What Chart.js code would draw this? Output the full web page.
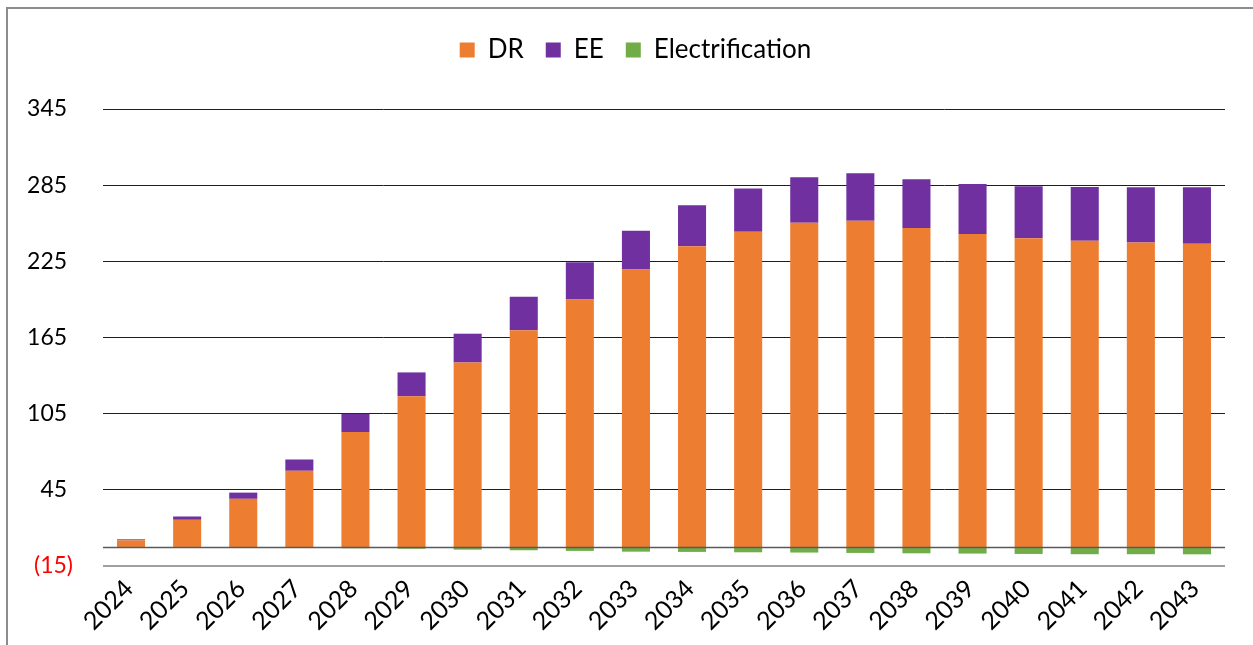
<!DOCTYPE html>
<html>
<head>
<meta charset="utf-8">
<script src="https://cdn.jsdelivr.net/npm/chart.js@4"></script>
<style>
  body { margin: 0; background: #fff; overflow: hidden; }
  #wrap { position: relative; width: 1253px; height: 645px; }
  #frame { position: absolute; left: 6px; top: 7px; width: 1400px; height: 800px;
           border-left: 2px solid #8c8c8c; border-top: 2px solid #8c8c8c; }
</style>
</head>
<body>
<div id="wrap">
  <div id="frame"></div>
  <canvas id="chart"></canvas>
</div>
<script>
const years = ['2024', '2025', '2026', '2027', '2028', '2029', '2030', '2031', '2032', '2033',
               '2034', '2035', '2036', '2037', '2038', '2039', '2040', '2041', '2042', '2043'];
const drValues = [5.2, 21.4, 37.9, 60.0, 90.5, 118.7, 145.3, 170.7, 195.0, 218.5,
                  236.8, 248.3, 255.4, 256.9, 251.2, 246.5, 243.1, 241.3, 239.9, 238.9];
const eeValues = [0.8, 2.6, 4.9, 8.9, 14.4, 18.8, 22.7, 26.4, 29.2, 30.6,
                  32.4, 34.0, 35.8, 37.4, 38.4, 39.5, 41.0, 42.3, 43.5, 44.5];
const elecValues = [0, -0.1, -0.2, -0.5, -1.0, -1.4, -2.1, -2.6, -3.1, -3.7,
                    -3.9, -4.2, -4.4, -4.7, -5.0, -5.2, -5.5, -5.7, -5.7, -5.8];
const yMin = -15, yMax = 345, yStep = 60;

// axis line at zero, drawn over the bars like Excel does
const zeroLine = {
  id: 'zeroLine',
  afterDatasetsDraw(chart) {
    const { ctx, chartArea, scales } = chart;
    const y = Math.round(scales.y.getPixelForValue(0)) + 0.5;
    ctx.save();
    ctx.strokeStyle = '#595959';
    ctx.lineWidth = 1.5;
    ctx.beginPath();
    ctx.moveTo(chartArea.left, y);
    ctx.lineTo(chartArea.right, y);
    ctx.stroke();
    ctx.restore();
  }
};

// extra space under the legend, and nudge it right a bit
const legendGap = {
  id: 'legendGap',
  beforeInit(chart) {
    const fit = chart.legend.fit;
    chart.legend.fit = function () {
      fit.bind(chart.legend)();
      this.height += 36;
    };
  },
  afterLayout(chart) {
    chart.legend.left += 28;
  }
};

const ctx = document.getElementById('chart').getContext('2d');
new Chart(ctx, {
  type: 'bar',
  data: {
    labels: years,
    datasets: [
      { label: 'DR', data: drValues, backgroundColor: '#ED7D31' },
      { label: 'EE', data: eeValues, backgroundColor: '#7030A0' },
      { label: 'Electrification', data: elecValues, backgroundColor: '#70AD47' }
    ]
  },
  options: {
    responsive: true,
    maintainAspectRatio: false,
    animation: false,
    layout: { padding: { left: 18, right: 28, top: 15, bottom: 0 } },
    datasets: { bar: { barPercentage: 0.5, categoryPercentage: 1 } },
    plugins: {
      tooltip: { enabled: false },
      legend: {
        position: 'top',
        labels: {
          boxWidth: 15,
          boxHeight: 15,
          padding: 22,
          color: '#000',
          font: { family: 'Lato', size: 26 }
        }
      }
    },
    scales: {
      x: {
        stacked: true,
        grid: { display: false },
        border: { display: false },
        ticks: {
          minRotation: 45,
          maxRotation: 45,
          padding: 0,
          labelOffset: -2,
          color: '#000',
          font: { family: 'Lato', size: 25 }
        },
        afterFit(scale) { scale.height = 79; }
      },
      y: {
        stacked: true,
        min: yMin,
        max: yMax,
        border: { display: false },
        grid: {
          drawTicks: false,
          color: (c) => c.tick && c.tick.value === yMin ? '#a0a0a0' : '#1e1e1e',
          lineWidth: (c) => c.tick && c.tick.value === yMin ? 2 : 1
        },
        ticks: {
          stepSize: yStep,
          padding: 30,
          color: (c) => c.tick && c.tick.value < 0 ? '#FF0000' : '#000',
          font: { family: 'Lato', size: 23 },
          callback: (v) => v < 0 ? '(' + Math.abs(v) + ')' : v + ' '
        },
        afterFit(scale) { scale.width = 85; }
      }
    }
  },
  plugins: [zeroLine, legendGap]
});
</script>
</body>
</html>
